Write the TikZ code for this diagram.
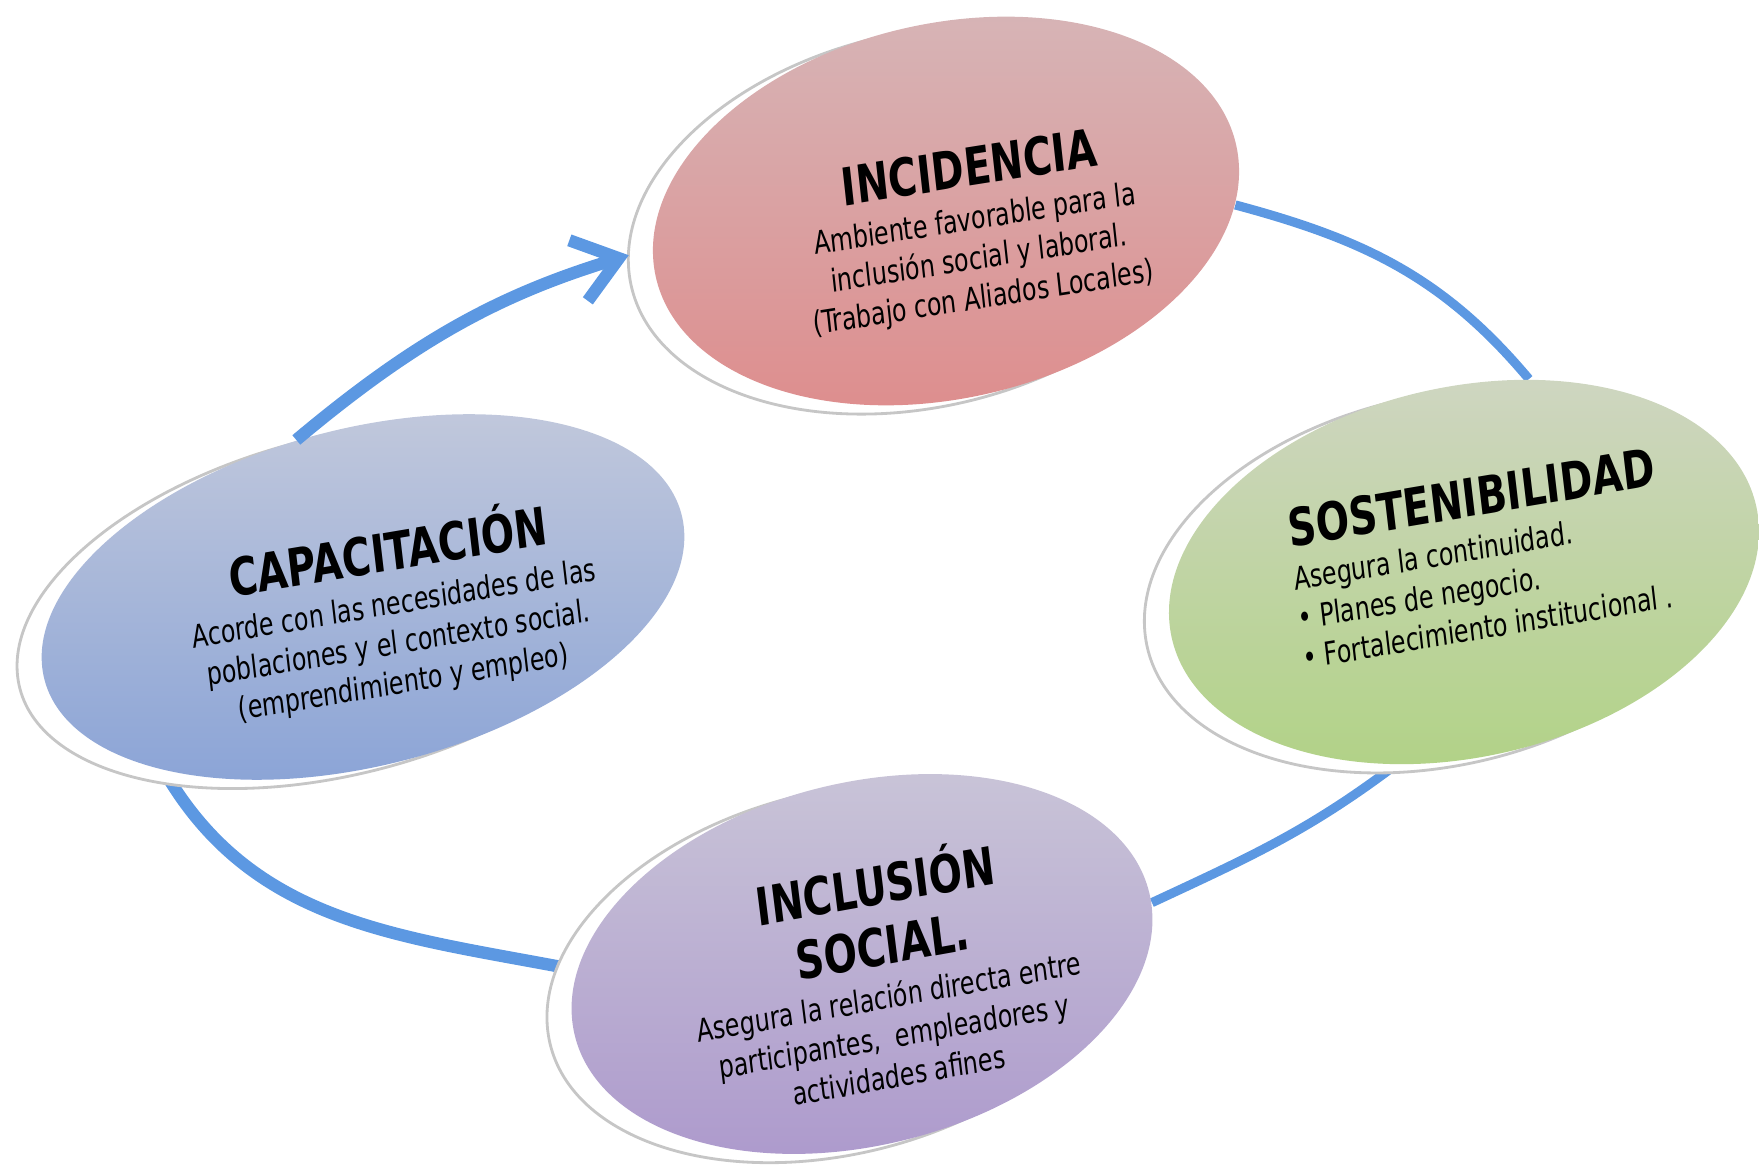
\documentclass[tikz,border=0pt]{standalone}
\usepackage{tikz}
\usepackage{fontspec}
\setmainfont{DejaVu Sans Condensed}[BoldFont={DejaVu Sans Condensed Bold}]
\usetikzlibrary{shapes.geometric}
\usetikzlibrary{shadows}
\usetikzlibrary{arrows.meta}
\usetikzlibrary{backgrounds}

\definecolor{incarriba}{RGB}{214,182,184}
\definecolor{incabajo}{RGB}{222,140,140}
\definecolor{caparriba}{RGB}{196,202,220}
\definecolor{capabajo}{RGB}{136,162,214}
\definecolor{sosarriba}{RGB}{208,214,196}
\definecolor{sosabajo}{RGB}{176,210,132}
\definecolor{inlarriba}{RGB}{202,198,216}
\definecolor{inlabajo}{RGB}{172,152,204}
\definecolor{azulciclo}{RGB}{92,152,226}

\newcommand{\cuerpo}{\fontsize{7.5}{9.4}\selectfont}
\newcommand{\titulo}[1]{{\fontsize{12.4}{14}\selectfont\bfseries #1}}

\tikzset{
  disco/.style={ellipse, yscale=1.2, inner sep=0pt,
    general shadow={fill=white, draw=gray!45, line width=0.8pt,
      shadow xshift=-7pt, shadow yshift=-2.5pt}},
  texto/.style={yscale=1.2, inner sep=0pt, font=\cuerpo},
  flecha/.style={draw=azulciclo, line width=3.5pt}
}

\begin{document}
\begin{tikzpicture}[x=0.01cm, y=0.01cm]
\useasboundingbox (0,0) rectangle (1759,-1167);

\node[disco, rotate=9, minimum width=5.91cm, minimum height=3.14cm,
    top color=incarriba, bottom color=incabajo] (incidencia) at (946,-211) {};
\node[texto, rotate=7.5, align=center] (incidencia-texto)
    at ([shift={(30,-20)}]incidencia.center)
    {\titulo{INCIDENCIA}\\[1pt]
     Ambiente favorable para la\\
     inclusión social y laboral.\\
     (Trabajo con Aliados Locales)};

\node[disco, rotate=11, minimum width=6.52cm, minimum height=2.83cm,
    top color=caparriba, bottom color=capabajo] (capacitacion) at (363,-597) {};
\node[texto, rotate=8, align=center] (capacitacion-texto)
    at ([shift={(32,-14)}]capacitacion.center)
    {\titulo{CAPACITACIÓN}\\[1pt]
     Acorde con las necesidades de las\\
     poblaciones y el contexto social.\\
     (emprendimiento y empleo)};

\node[disco, rotate=9, minimum width=5.95cm, minimum height=3.10cm,
    top color=sosarriba, bottom color=sosabajo] (sostenibilidad) at (1464,-572) {};
\node[texto, rotate=8, align=left] (sostenibilidad-texto)
    at ([shift={(16,14)}]sostenibilidad.center)
    {\titulo{SOSTENIBILIDAD}\\[1pt]
     Asegura la continuidad.\\
     • Planes de negocio.\\
     • Fortalecimiento institucional .};

\node[disco, rotate=10, minimum width=5.87cm, minimum height=3.04cm,
    top color=inlarriba, bottom color=inlabajo] (inclusion) at (862,-964) {};
\node[texto, rotate=8.5, align=center] (inclusion-texto)
    at ([shift={(24,-8)}]inclusion.center)
    {\titulo{INCLUSIÓN}\\[5pt]
     \titulo{SOCIAL.}\\[1pt]
     Asegura la relación directa entre\\
     participantes,\ \ empleadores y\\
     actividades afines};

% ciclo
\draw[flecha, -{Straight Barb[length=12pt,width=18pt]}, shorten >=7pt]
    (capacitacion.106) to[out=40, in=197] (incidencia.177);
\begin{scope}[on background layer]
\draw[flecha, line width=2.6pt] (incidencia.352) to[out=-15, in=130] (sostenibilidad.59);
\draw[flecha, line width=2.6pt] (sostenibilidad.238) to[out=217, in=25] (inclusion.0);
\draw[flecha] (inclusion.171) to[out=169, in=300] (capacitacion.205);
\end{scope}

\end{tikzpicture}
\end{document}
